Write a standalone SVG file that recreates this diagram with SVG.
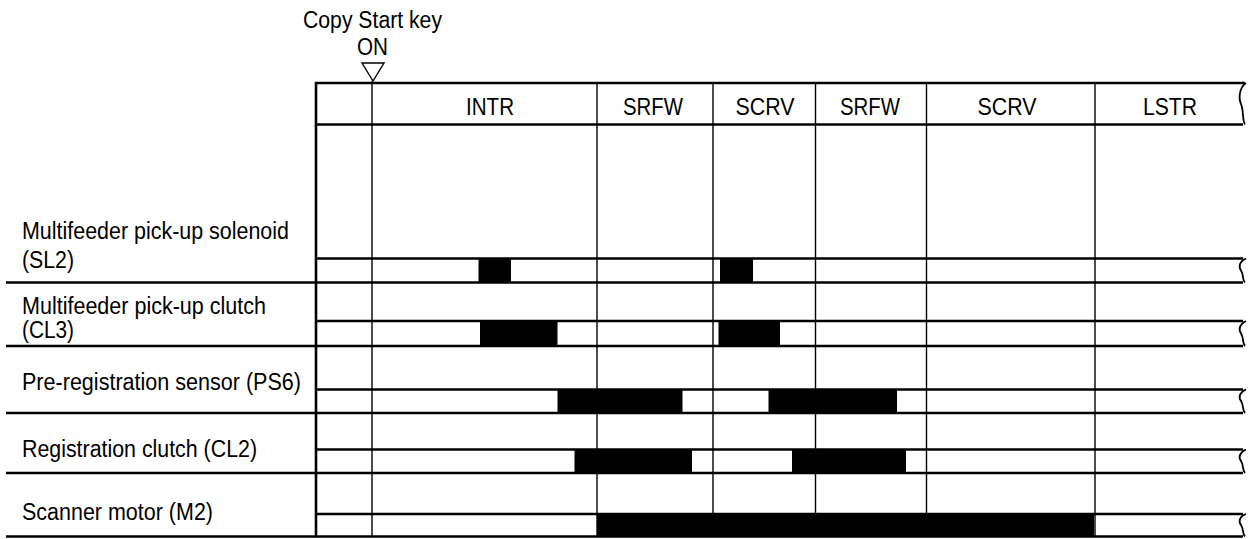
<svg xmlns="http://www.w3.org/2000/svg" width="1252" height="539" viewBox="0 0 1252 539">
<style>
text{font-family:"Liberation Sans",Arial,sans-serif;font-size:23px;fill:#000}
.mid{text-anchor:middle}
.thick{stroke:#000;stroke-width:2.6;fill:none}
.thin{stroke:#000;stroke-width:1.4;fill:none}
.sq{stroke:#000;stroke-width:1.8;fill:none}
.bar{fill:#000}
</style>
<rect width="1252" height="539" fill="#fff"/>
<g id="start-trigger">
<text x="372.5" y="28" class="mid" textLength="139" lengthAdjust="spacingAndGlyphs">Copy Start key</text>
<text x="372.5" y="55" class="mid" textLength="31" lengthAdjust="spacingAndGlyphs">ON</text>
<path d="M362,63 L384,63 L373,81 Z" class="thin" stroke-linejoin="miter"/>
</g>
<g id="grid">
<line x1="372" y1="81" x2="372" y2="537" class="thin"/>
<line x1="597" y1="83" x2="597" y2="537" class="thin"/>
<line x1="713" y1="83" x2="713" y2="537" class="thin"/>
<line x1="815.5" y1="83" x2="815.5" y2="537" class="thin"/>
<line x1="926.5" y1="83" x2="926.5" y2="537" class="thin"/>
<line x1="1095" y1="83" x2="1095" y2="537" class="thin"/>
<line x1="316" y1="82" x2="316" y2="537.5" class="thick" stroke-width="2.2"/>
</g>
<g id="header">
<line x1="315" y1="83" x2="1245" y2="83" class="thick"/>
<line x1="315" y1="124.5" x2="1243" y2="124.5" class="thick"/>
<path d="M1246,83 C1240,87 1238,97 1241,104 C1244,111 1242,120 1245,124.5" class="sq"/>
<text x="490" y="115" class="mid" textLength="48" lengthAdjust="spacingAndGlyphs">INTR</text>
<text x="653" y="115" class="mid" textLength="60" lengthAdjust="spacingAndGlyphs">SRFW</text>
<text x="765" y="115" class="mid" textLength="59" lengthAdjust="spacingAndGlyphs">SCRV</text>
<text x="870" y="115" class="mid" textLength="60" lengthAdjust="spacingAndGlyphs">SRFW</text>
<text x="1007" y="115" class="mid" textLength="59" lengthAdjust="spacingAndGlyphs">SCRV</text>
<text x="1170" y="115" class="mid" textLength="54" lengthAdjust="spacingAndGlyphs">LSTR</text>
</g>
<g id="sl2">
<text x="22" y="239" textLength="267" lengthAdjust="spacingAndGlyphs">Multifeeder pick-up solenoid</text>
<text x="22" y="268" textLength="52" lengthAdjust="spacingAndGlyphs">(SL2)</text>
<rect x="478.5" y="258.5" width="32.5" height="24" class="bar"/>
<rect x="720" y="258.5" width="33" height="24" class="bar"/>
<line x1="315" y1="258.5" x2="1243" y2="258.5" class="thick"/>
<line x1="6" y1="282.5" x2="1243" y2="282.5" class="thick"/>
<path d="M1246,258.5 C1240,261 1238,266 1241,270.5 C1244,275 1242,280 1245,282.5" class="sq"/>
</g>
<g id="cl3">
<text x="22" y="314" textLength="244" lengthAdjust="spacingAndGlyphs">Multifeeder pick-up clutch</text>
<text x="22" y="338" textLength="52" lengthAdjust="spacingAndGlyphs">(CL3)</text>
<rect x="480" y="321" width="77.5" height="25" class="bar"/>
<rect x="718.5" y="321" width="61.5" height="25" class="bar"/>
<line x1="315" y1="321" x2="1243" y2="321" class="thick"/>
<line x1="6" y1="346" x2="1243" y2="346" class="thick"/>
<path d="M1246,321 C1240,324 1238,329 1241,333.5 C1244,338 1242,343 1245,346" class="sq"/>
</g>
<g id="ps6">
<text x="22" y="390" textLength="279" lengthAdjust="spacingAndGlyphs">Pre-registration sensor (PS6)</text>
<rect x="557.5" y="389.5" width="125" height="23.5" class="bar"/>
<rect x="768.5" y="389.5" width="128.5" height="23.5" class="bar"/>
<line x1="315" y1="389.5" x2="1243" y2="389.5" class="thick"/>
<line x1="6" y1="413" x2="1243" y2="413" class="thick"/>
<path d="M1246,389.5 C1240,392 1238,397 1241,401 C1244,405 1242,410 1245,413" class="sq"/>
</g>
<g id="cl2">
<text x="22" y="456.5" textLength="235" lengthAdjust="spacingAndGlyphs">Registration clutch (CL2)</text>
<rect x="574.5" y="449.5" width="117.5" height="23.5" class="bar"/>
<rect x="792" y="449.5" width="114" height="23.5" class="bar"/>
<line x1="315" y1="449.5" x2="1243" y2="449.5" class="thick"/>
<line x1="6" y1="473" x2="1243" y2="473" class="thick"/>
<path d="M1246,449.5 C1240,452 1238,457 1241,461 C1244,465 1242,470 1245,473" class="sq"/>
</g>
<g id="m2">
<text x="22" y="520" textLength="191" lengthAdjust="spacingAndGlyphs">Scanner motor (M2)</text>
<rect x="597" y="514" width="497" height="22.5" class="bar"/>
<line x1="315" y1="514" x2="1243" y2="514" class="thick"/>
<line x1="6" y1="536.5" x2="1243" y2="536.5" class="thick"/>
<path d="M1246,514 C1240,516 1238,521 1241,525 C1244,529 1242,534 1245,536.5" class="sq"/>
</g>
</svg>
